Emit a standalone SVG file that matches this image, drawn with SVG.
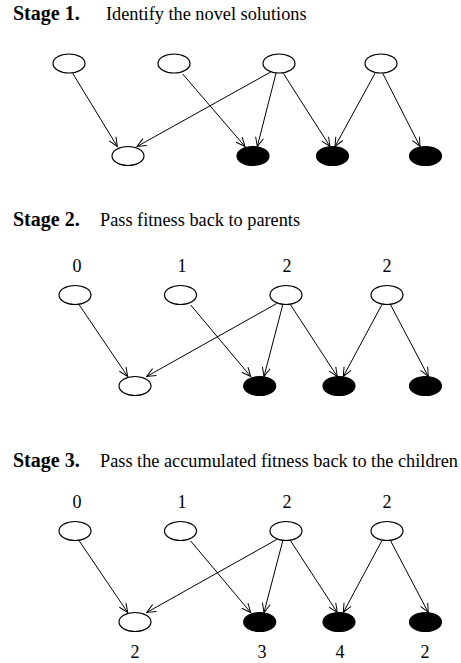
<svg xmlns="http://www.w3.org/2000/svg" width="461" height="663" viewBox="0 0 461 663">
<defs>
<marker id="arr" markerUnits="userSpaceOnUse" markerWidth="12" markerHeight="12" viewBox="-10 -6 12 12" refX="0" refY="0" orient="auto">
<path d="M-9,-4 L0,0 L-9,4" fill="none" stroke="#000" stroke-width="1"/>
</marker>
</defs>
<style>
.t{font-family:"Liberation Serif","Times New Roman",serif;font-size:18.3px;fill:#000}
.b{font-family:"Liberation Serif","Times New Roman",serif;font-size:20px;font-weight:bold;fill:#000}
.n{font-family:"Liberation Serif","Times New Roman",serif;font-size:18px;fill:#000;text-anchor:middle}
.o{fill:#fff;stroke:#000;stroke-width:1.2}
.f{fill:#000;stroke:#000;stroke-width:1.2}
.e{stroke:#000;stroke-width:1;fill:none;marker-end:url(#arr)}
</style>
<rect width="461" height="663" fill="#fff"/>

<!-- Titles -->
<g id="title1"><text class="b" x="13" y="20">Stage 1.</text><text class="t" x="106" y="20">Identify the novel solutions</text></g>
<g id="title2"><text class="b" x="13" y="226">Stage 2.</text><text class="t" x="100" y="226">Pass fitness back to parents</text></g>
<g id="title3"><text class="b" x="13" y="467">Stage 3.</text><text class="t" x="100" y="467">Pass the accumulated fitness back to the children</text></g>

<!-- Connectors -->
<g id="connectors">
<line class="e" x1="72.7" y1="73.3" x2="117.3" y2="146.5"/>
<line class="e" x1="182.7" y1="74" x2="245" y2="146.5"/>
<line class="e" x1="270.7" y1="72" x2="137" y2="146.5"/>
<line class="e" x1="276" y1="73.3" x2="257.3" y2="146.5"/>
<line class="e" x1="283.3" y1="73.3" x2="330" y2="146.5"/>
<line class="e" x1="375" y1="73.3" x2="335" y2="146.5"/>
<line class="e" x1="382.7" y1="73.3" x2="420" y2="146.5"/>

<line class="e" x1="79.3" y1="305" x2="127.7" y2="376.5"/>
<line class="e" x1="190.7" y1="305" x2="250.7" y2="376.5"/>
<line class="e" x1="276.7" y1="303.5" x2="146.7" y2="376.5"/>
<line class="e" x1="282.7" y1="305" x2="264" y2="376.5"/>
<line class="e" x1="290.7" y1="305" x2="337.3" y2="376.5"/>
<line class="e" x1="381.7" y1="305" x2="343.3" y2="376.5"/>
<line class="e" x1="390.7" y1="305" x2="428.3" y2="376.5"/>

<line class="e" x1="79.3" y1="541" x2="127.7" y2="612.5"/>
<line class="e" x1="190.7" y1="541" x2="250.7" y2="612.5"/>
<line class="e" x1="276.7" y1="539.5" x2="146.7" y2="612.5"/>
<line class="e" x1="282.7" y1="541" x2="264" y2="612.5"/>
<line class="e" x1="290.7" y1="541" x2="337.3" y2="612.5"/>
<line class="e" x1="381.7" y1="541" x2="343.3" y2="612.5"/>
<line class="e" x1="390.7" y1="541" x2="428.3" y2="612.5"/>
</g>

<!-- Stage 1 nodes -->
<g id="s1p1"><ellipse class="o" cx="69" cy="63.5" rx="16" ry="9.5"/></g>
<g id="s1p2"><ellipse class="o" cx="174" cy="63.5" rx="16" ry="9.5"/></g>
<g id="s1p3"><ellipse class="o" cx="279" cy="63.5" rx="16" ry="9.5"/></g>
<g id="s1p4"><ellipse class="o" cx="381" cy="63.5" rx="16" ry="9.5"/></g>
<g id="s1c1"><ellipse class="o" cx="128" cy="156" rx="16" ry="9.5"/></g>
<g id="s1c2"><ellipse class="f" cx="253" cy="156" rx="16" ry="9.5"/></g>
<g id="s1c3"><ellipse class="f" cx="332.5" cy="156" rx="16" ry="9.5"/></g>
<g id="s1c4"><ellipse class="f" cx="425.5" cy="156" rx="16" ry="9.5"/></g>

<!-- Stage 2 nodes -->
<g id="s2p1"><ellipse class="o" cx="75" cy="295" rx="16" ry="9.5"/><text class="n" x="77" y="272">0</text></g>
<g id="s2p2"><ellipse class="o" cx="180.5" cy="295" rx="16" ry="9.5"/><text class="n" x="182" y="272">1</text></g>
<g id="s2p3"><ellipse class="o" cx="286" cy="295" rx="16" ry="9.5"/><text class="n" x="287" y="272">2</text></g>
<g id="s2p4"><ellipse class="o" cx="387" cy="295" rx="16" ry="9.5"/><text class="n" x="387" y="272">2</text></g>
<g id="s2c1"><ellipse class="o" cx="135" cy="386" rx="16" ry="9.5"/></g>
<g id="s2c2"><ellipse class="f" cx="259.7" cy="386" rx="16" ry="9.5"/></g>
<g id="s2c3"><ellipse class="f" cx="339" cy="386" rx="16" ry="9.5"/></g>
<g id="s2c4"><ellipse class="f" cx="425.5" cy="386" rx="16" ry="9.5"/></g>

<!-- Stage 3 nodes -->
<g id="s3p1"><ellipse class="o" cx="75" cy="531" rx="16" ry="9.5"/><text class="n" x="77" y="508">0</text></g>
<g id="s3p2"><ellipse class="o" cx="180.5" cy="531" rx="16" ry="9.5"/><text class="n" x="182" y="508">1</text></g>
<g id="s3p3"><ellipse class="o" cx="286" cy="531" rx="16" ry="9.5"/><text class="n" x="287" y="508">2</text></g>
<g id="s3p4"><ellipse class="o" cx="387" cy="531" rx="16" ry="9.5"/><text class="n" x="387" y="508">2</text></g>
<g id="s3c1"><ellipse class="o" cx="135" cy="622" rx="16" ry="9.5"/><text class="n" x="135" y="658">2</text></g>
<g id="s3c2"><ellipse class="f" cx="259.7" cy="622" rx="16" ry="9.5"/><text class="n" x="262" y="658">3</text></g>
<g id="s3c3"><ellipse class="f" cx="339" cy="622" rx="16" ry="9.5"/><text class="n" x="340" y="658">4</text></g>
<g id="s3c4"><ellipse class="f" cx="425.5" cy="622" rx="16" ry="9.5"/><text class="n" x="425" y="658">2</text></g>
</svg>
